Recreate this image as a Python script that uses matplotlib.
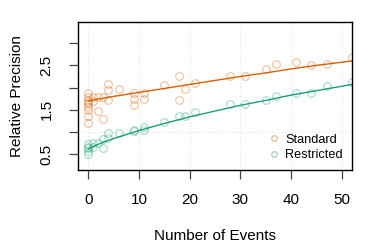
#! /usr/bin/env python3

'''
Relative precision versus number of events, standard and restricted designs.
'''

import matplotlib
matplotlib.use('Agg')
import matplotlib.pyplot as plt


ORANGE = '#D95F02'
GREEN = '#1B9E77'

# observed points, standard design
std_x = [0, 0, 0, 0, 0, 0, 0, 0, 0, 1, 1, 2, 2, 3, 3, 4, 4, 4, 6,
         9, 9, 9, 11, 11, 15, 18, 18, 19, 21, 28, 31, 35, 37, 41, 44, 47, 52]
std_y = [1.88, 1.79, 1.73, 1.67, 1.62, 1.57, 1.50, 1.37, 1.20, 1.78, 1.70,
         1.79, 1.48, 1.79, 1.30, 2.07, 1.94, 1.73, 1.96,
         1.88, 1.74, 1.61, 1.88, 1.74, 2.05, 2.26, 1.73, 1.96, 2.10,
         2.26, 2.26, 2.41, 2.54, 2.57, 2.51, 2.52, 2.70]

# observed points, restricted design
res_x = [0, 0, 0, 0, 0, 1, 1, 2, 3, 3, 4, 4, 6, 9, 9, 11, 11,
         15, 18, 19, 21, 28, 31, 35, 37, 41, 44, 47, 52]
res_y = [0.73, 0.67, 0.63, 0.57, 0.51, 0.76, 0.65, 0.74, 0.84, 0.64,
         0.97, 0.86, 0.97, 1.05, 1.01, 1.12, 1.05,
         1.23, 1.37, 1.35, 1.45, 1.64, 1.64, 1.73, 1.82, 1.87, 1.88,
         2.03, 2.13]

# fitted curves
fit_std_x = [0, 5, 10, 15, 20, 25, 30, 35, 40, 45, 52]
fit_std_y = [1.70, 1.80, 1.89, 1.98, 2.07, 2.16, 2.25, 2.33, 2.42, 2.50,
             2.60]
fit_res_x = [0, 1, 2, 3, 4, 5, 7.5, 10, 15, 20, 25, 30, 35, 40, 45, 52]
fit_res_y = [0.61, 0.67, 0.72, 0.77, 0.81, 0.85, 0.94, 1.03, 1.19, 1.34,
             1.47, 1.60, 1.71, 1.83, 1.93, 2.07]

x_ticks = [0, 10, 20, 30, 40, 50]
y_ticks = [0.5, 1.0, 1.5, 2.0, 2.5, 3.0]
y_labels = ['0.5', '', '1.5', '', '2.5', '']

plt.rcParams['font.family'] = ['Liberation Sans', 'DejaVu Sans']

fig = plt.figure(figsize=(3.74, 2.49), dpi=100)
ax = fig.add_axes([0.2086, 0.317, 0.7325, 0.595])

for x in x_ticks:
    ax.axvline(x, color='#e0e0e0', linestyle=(0, (1, 2)), linewidth=0.8,
               zorder=0)
ax.axhline(1.0, color='#e0e0e0', linestyle=(0, (1, 2)), linewidth=0.8,
           zorder=0)

ax.plot(std_x, std_y, 'o', markersize=5.5, markerfacecolor='none',
        markeredgecolor=ORANGE, markeredgewidth=0.8, alpha=0.4)
ax.plot(res_x, res_y, 'o', markersize=5.5, markerfacecolor='none',
        markeredgecolor=GREEN, markeredgewidth=0.8, alpha=0.4)
ax.plot(fit_std_x, fit_std_y, color=ORANGE, linewidth=1)
ax.plot(fit_res_x, fit_res_y, color=GREEN, linewidth=1)

ax.set_xlim(-2, 52)
ax.set_ylim(0.14, 3.48)
ax.set_xticks(x_ticks)
ax.set_yticks(y_ticks)
ax.set_yticklabels(y_labels, rotation=90, va='center')
ax.tick_params(axis='both', direction='out', length=6.5, width=0.9,
               color='#444444', labelsize=11)
ax.tick_params(axis='x', pad=10)
ax.tick_params(axis='y', pad=11)
for spine in ax.spines.values():
    spine.set_linewidth(1)

ax.set_xlabel('Number of Events', fontsize=11, labelpad=16)
ax.set_ylabel('Relative Precision', fontsize=11, labelpad=11)

handles = [
    plt.Line2D([], [], linestyle='none', marker='o', markersize=4,
               markerfacecolor='none', markeredgecolor=ORANGE, alpha=0.4),
    plt.Line2D([], [], linestyle='none', marker='o', markersize=4,
               markerfacecolor='none', markeredgecolor=GREEN, alpha=0.4),
]
ax.legend(handles, ['Standard', 'Restricted'], loc='lower right',
          bbox_to_anchor=(1.0, 0.0), frameon=False, fontsize=9.2,
          handlelength=1.0, handletextpad=0.4, labelspacing=0.25,
          borderaxespad=0.3)

fig.savefig('out.png', dpi=100)
